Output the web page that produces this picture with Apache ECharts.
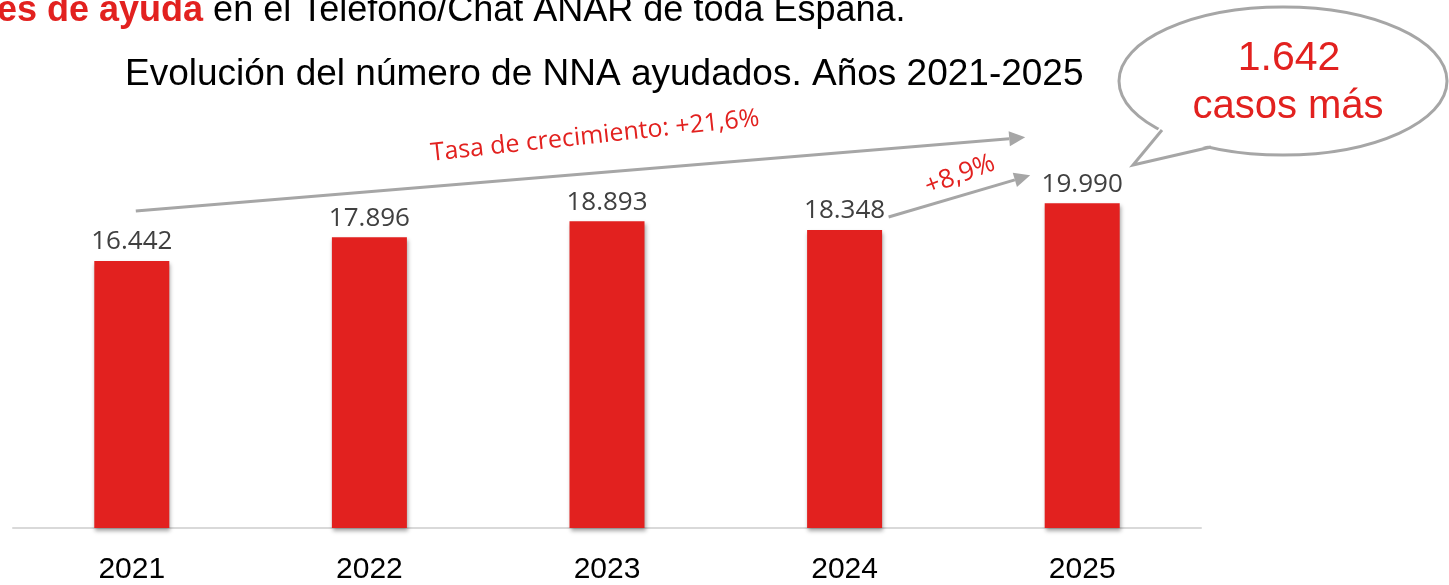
<!DOCTYPE html>
<html>
<head>
<meta charset="utf-8">
<script src="https://cdn.jsdelivr.net/npm/echarts@6/dist/echarts.min.js"></script>
<style>
  html, body { margin: 0; padding: 0; background: #fff; }
  #chart { width: 1449px; height: 585px; }
</style>
</head>
<body>
<div id="chart"></div>
<script>
// Años y número de NNA ayudados
const years = ['2021', '2022', '2023', '2024', '2025'];
const ayudados = [16442, 17896, 18893, 18348, 19990];
const tasaTotal = 'Tasa de crecimiento: +21,6%';
const tasaAnual = '+8,9%';
const diferencia = '1.642';

const RED = '#e2211f';
const GREY = '#a6a6a6';

const fmt = v => String(v).replace(/\B(?=(\d{3})+(?!\d))/g, '.');

const chart = echarts.init(document.getElementById('chart'), null, { renderer: 'canvas' });

const option = {
  animation: false,
  backgroundColor: '#ffffff',
  title: {
    text: 'Evolución del número de NNA ayudados. Años 2021-2025',
    left: 120,
    top: 51,
    textStyle: { fontFamily: 'Liberation Sans', fontWeight: 'normal', fontSize: 37, color: '#000' }
  },
  grid: { left: 13, right: 248, top: 122, bottom: 55 },
  xAxis: {
    type: 'category',
    data: years,
    axisLine: { show: true, lineStyle: { color: '#d9d9d9', width: 2 } },
    axisTick: { show: false },
    axisLabel: { margin: 27, color: '#000', fontFamily: 'Liberation Sans', fontSize: 30 }
  },
  yAxis: {
    type: 'value',
    min: 0,
    max: 25000,
    show: false,
    splitLine: { show: false }
  },
  series: [{
    type: 'bar',
    data: ayudados,
    barWidth: 75,
    itemStyle: {
      color: RED,
      shadowColor: 'rgba(0,0,0,0.35)',
      shadowBlur: 4,
      shadowOffsetX: 1,
      shadowOffsetY: 3
    },
    label: {
      show: true,
      position: 'top',
      distance: 6,
      color: '#404040',
      fontFamily: 'Open Sans',
      fontSize: 26,
      formatter: p => fmt(p.value)
    }
  }]
};
chart.setOption(option);

// Anotaciones colocadas a partir de las posiciones de las barras
const px = i => chart.convertToPixel({ gridIndex: 0 }, [i, ayudados[i]]);
const p0 = px(0), p3 = px(3), p4 = px(4);

const arrow = (x1, y1, x2, y2) => {
  const a = Math.atan2(y2 - y1, x2 - x1);
  const L = 16, W = 7.5;
  const bx = x2 - L * Math.cos(a), by = y2 - L * Math.sin(a);
  return [
    { type: 'line', shape: { x1, y1, x2: bx, y2: by }, style: { stroke: GREY, lineWidth: 3 } },
    { type: 'polygon', shape: { points: [
      [x2, y2],
      [bx + W * Math.sin(a), by - W * Math.cos(a)],
      [bx - W * Math.sin(a), by + W * Math.cos(a)]
    ] }, style: { fill: GREY } }
  ];
};

const graphics = [
  // Texto superior
  {
    type: 'text', left: -3, top: -7,
    style: {
      text: '{r|es de ayuda} en el Teléfono/Chat ANAR de toda España.',
      font: '36px "Liberation Sans"', fill: '#000',
      rich: { r: { fill: RED, fontWeight: 'bold', fontSize: 36, fontFamily: 'Liberation Sans' } }
    }
  },
  ...arrow(p0[0] + 4, p0[1] - 50, p4[0] - 57, p4[1] - 66),
  ...arrow(p3[0] + 44, p3[1] - 13, p4[0] - 52, p4[1] - 28),
  {
    type: 'text', x: 595, y: 136, rotation: 0.107,
    style: { text: tasaTotal, fill: RED, font: '25px "Open Sans"', align: 'center', verticalAlign: 'middle' }
  },
  {
    type: 'text', x: 960, y: 175, rotation: 0.36,
    style: { text: tasaAnual, fill: RED, font: '26px "Open Sans"', align: 'center', verticalAlign: 'middle' }
  },
  // Bocadillo
  {
    type: 'ellipse', shape: { cx: 1283, cy: 81, rx: 164, ry: 74 },
    style: { fill: '#fff', stroke: GREY, lineWidth: 3 }
  },
  {
    type: 'polygon', shape: { points: [[1160, 127], [1190, 118], [1214, 144], [1133, 165]] },
    style: { fill: '#fff' }
  },
  {
    type: 'polyline', shape: { points: [[1162, 130], [1133, 165], [1211, 147]] },
    style: { stroke: GREY, lineWidth: 3, fill: null }
  },
  {
    type: 'text', x: 1289, y: 59,
    style: { text: diferencia, fill: RED, font: '41px "Liberation Sans"', align: 'center', verticalAlign: 'middle' }
  },
  {
    type: 'text', x: 1288, y: 107,
    style: { text: 'casos más', fill: RED, font: '40px "Liberation Sans"', align: 'center', verticalAlign: 'middle' }
  }
];
chart.setOption({ graphic: { elements: graphics } });
</script>
</body>
</html>
